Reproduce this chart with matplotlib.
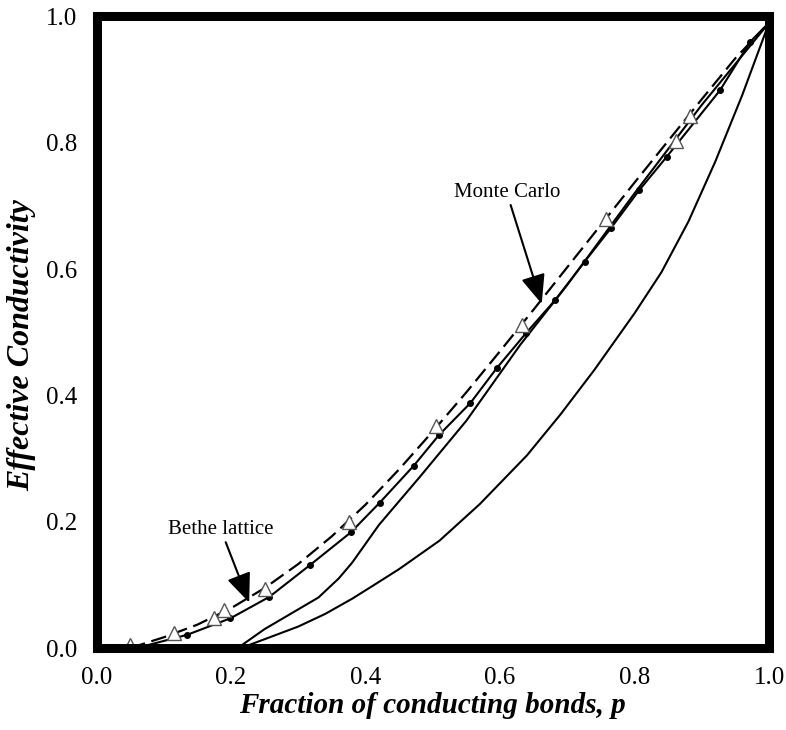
import numpy as np
import matplotlib
matplotlib.use("Agg")
import matplotlib.pyplot as plt
from matplotlib.ticker import MultipleLocator

plt.rcParams['font.family'] = ['Liberation Serif', 'DejaVu Serif']

# Monte Carlo results (open triangles)
mc_p = [0.05, 0.115, 0.175, 0.19, 0.25, 0.375, 0.505, 0.632, 0.757, 0.862, 0.883]
mc_g = [0.005, 0.024, 0.047, 0.060, 0.093, 0.200, 0.352, 0.511, 0.680, 0.803, 0.843]

# Dashed theory curve
dash_p = [0.05, 0.10, 0.15, 0.20, 0.25, 0.30, 0.35, 0.40, 0.45, 0.50,
          0.55, 0.60, 0.65, 0.70, 0.75, 0.80, 0.85, 0.90, 0.95, 1.0]
dash_g = [0.0, 0.017, 0.037, 0.063, 0.095, 0.133, 0.177, 0.227, 0.283, 0.343,
          0.405, 0.470, 0.536, 0.603, 0.670, 0.737, 0.803, 0.869, 0.934, 0.99]

# Bethe lattice curve (solid, filled dots)
bethe_p = [0.06, 0.135, 0.199, 0.257, 0.317, 0.378, 0.421, 0.472, 0.509, 0.556,
           0.595, 0.639, 0.682, 0.726, 0.765, 0.807, 0.848, 0.927, 0.972, 1.0]
bethe_g = [0.0, 0.021, 0.047, 0.081, 0.131, 0.183, 0.230, 0.289, 0.337, 0.388,
           0.443, 0.499, 0.551, 0.612, 0.665, 0.725, 0.778, 0.883, 0.960, 0.99]
dot_p = bethe_p[1:-1]
dot_g = bethe_g[1:-1]

# Two lower solid curves with threshold near p = 0.2
a_p = [0.21, 0.25, 0.29, 0.33, 0.36, 0.38, 0.42, 0.48, 0.55, 0.63, 0.70, 0.80, 0.90, 1.0]
a_g = [0.0, 0.03, 0.055, 0.08, 0.11, 0.135, 0.195, 0.27, 0.36, 0.48, 0.575, 0.72, 0.86, 0.99]
b_p = [0.215, 0.26, 0.30, 0.34, 0.38, 0.41, 0.45, 0.51, 0.57, 0.64, 0.69, 0.74,
       0.80, 0.84, 0.88, 0.92, 0.96, 1.0]
b_g = [0.0, 0.018, 0.034, 0.054, 0.078, 0.098, 0.125, 0.17, 0.228, 0.305, 0.37, 0.44,
       0.53, 0.595, 0.675, 0.77, 0.875, 0.99]

fig = plt.figure(figsize=(7.86, 7.30), dpi=100)
ax = fig.add_axes([0.1228, 0.1123, 0.8556, 0.8651])

ax.plot(dash_p, dash_g, color='black', lw=1.6, ls=(0, (7, 3)))
ax.plot(bethe_p, bethe_g, color='black', lw=1.5)
ax.plot(dot_p, dot_g, 'o', color='black', ms=4)
ax.plot(a_p, a_g, color='black', lw=1.5)
ax.plot(b_p, b_g, color='black', lw=1.5)
ax.plot(mc_p, mc_g, '^', mfc='white', mec='#555555', mew=1.0, ms=10)

arrow = dict(arrowstyle='-|>,head_length=1.2,head_width=0.5', color='black', lw=1.5,
             shrinkA=0, shrinkB=0)
ax.annotate('Monte Carlo', xy=(0.662, 0.545), xytext=(0.610, 0.721),
            ha='center', va='center', fontsize=15, arrowprops=arrow)
ax.annotate('Bethe lattice', xy=(0.227, 0.072), xytext=(0.185, 0.187),
            ha='center', va='center', fontsize=15, arrowprops=arrow)

ax.set_xlim(0, 1)
ax.set_ylim(0, 1)
ax.xaxis.set_major_locator(MultipleLocator(0.2))
ax.yaxis.set_major_locator(MultipleLocator(0.2))
ax.xaxis.set_minor_locator(MultipleLocator(0.04))
ax.yaxis.set_minor_locator(MultipleLocator(0.04))
ax.tick_params(which='major', direction='in', length=0, pad=14, labelsize=18)
ax.tick_params(which='minor', direction='in', length=3, width=0.6, color='#777777')
ax.xaxis.set_major_formatter(plt.FormatStrFormatter('%.1f'))
ax.yaxis.set_major_formatter(plt.FormatStrFormatter('%.1f'))

for s in ax.spines.values():
    s.set_linewidth(6.5)

ax.set_xlabel('Fraction of conducting bonds, p', fontsize=21, fontweight='bold',
              fontstyle='italic', labelpad=2)
ax.set_ylabel('Effective Conductivity', fontsize=23, fontweight='bold',
              fontstyle='italic')
ax.yaxis.set_label_coords(-0.09, 0.48)

fig.savefig('out.png', dpi=100)
